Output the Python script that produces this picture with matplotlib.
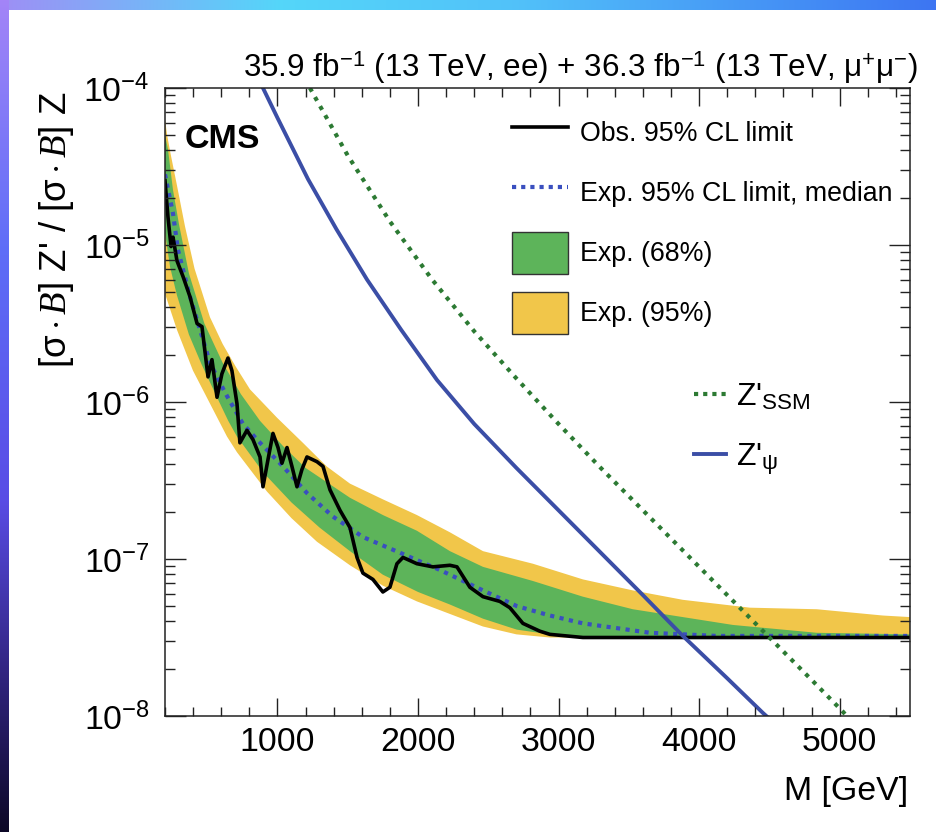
import numpy as np
import matplotlib
matplotlib.use("Agg")
import matplotlib.pyplot as plt
from matplotlib.lines import Line2D
from matplotlib.patches import Patch
from matplotlib.ticker import MultipleLocator, LogLocator, FormatStrFormatter

# values: mass in GeV, limits given as log10 of the ratio
obs_mass = [200, 221, 243, 257, 285, 328, 378, 428, 463, 506, 534, 570, 605, 648, 676,
            712, 733, 783, 826, 876, 897, 932, 968, 1004, 1032, 1068, 1103, 1139, 1174,
            1210, 1281, 1324, 1374, 1445, 1516, 1566, 1608, 1679, 1750, 1800, 1850, 1893,
            1992, 2106, 2227, 2277, 2369, 2462, 2582, 2653, 2746, 2867, 2938, 3173, 5500]
obs_log = [-4.59, -4.82, -5.01, -4.95, -5.10, -5.20, -5.33, -5.50, -5.52, -5.84, -5.73,
           -5.97, -5.82, -5.72, -5.80, -6.01, -6.26, -6.18, -6.24, -6.35, -6.54, -6.37,
           -6.20, -6.29, -6.39, -6.29, -6.41, -6.54, -6.43, -6.35, -6.38, -6.41, -6.56,
           -6.69, -6.80, -6.99, -7.09, -7.13, -7.21, -7.18, -7.03, -6.99, -7.03, -7.05,
           -7.04, -7.05, -7.18, -7.24, -7.27, -7.31, -7.41, -7.46, -7.48, -7.50, -7.50]

exp_mass = [200, 257, 292, 378, 449, 520, 627, 755, 876, 1039, 1210, 1395, 1608, 1871,
            2156, 2462, 2703, 2938, 3173, 3650, 4126, 5500]
exp_log = [-4.55, -4.80, -5.03, -5.33, -5.54, -5.75, -5.94, -6.14, -6.26, -6.41, -6.58,
           -6.73, -6.86, -6.96, -7.07, -7.20, -7.30, -7.36, -7.41, -7.47, -7.49, -7.49]

g_up_mass = [200, 221, 257, 300, 370, 480, 610, 740, 876, 1039, 1200, 1516, 1750, 1992,
             2227, 2462, 2817, 3173, 3528, 3884, 4240, 4837, 5500]
g_up_log = [-4.30, -4.39, -4.65, -4.87, -5.18, -5.50, -5.75, -5.95, -6.12, -6.28, -6.42,
            -6.61, -6.72, -6.82, -6.95, -7.05, -7.14, -7.24, -7.32, -7.37, -7.42, -7.47, -7.48]
g_lo_mass = [200, 236, 285, 370, 460, 570, 650, 712, 900, 1100, 1300, 1516, 1750, 2000,
             2227, 2462, 2703, 2938, 3200, 5500]
g_lo_log = [-4.92, -5.14, -5.32, -5.57, -5.76, -5.97, -6.12, -6.22, -6.45, -6.64, -6.80,
            -6.95, -7.10, -7.21, -7.29, -7.38, -7.45, -7.48, -7.50, -7.50]

y_up_mass = [200, 215, 240, 285, 342, 410, 520, 610, 700, 805, 997, 1181, 1350, 1516, 1750,
             1992, 2227, 2462, 2817, 3173, 3528, 3884, 4361, 4837, 5306, 5500]
y_up_log = [-4.20, -4.30, -4.42, -4.62, -4.88, -5.15, -5.46, -5.63, -5.77, -5.92, -6.10,
            -6.26, -6.41, -6.52, -6.62, -6.72, -6.83, -6.95, -7.03, -7.13, -7.20, -7.26,
            -7.31, -7.32, -7.36, -7.37]
y_lo_mass = [200, 285, 399, 520, 641, 712, 925, 1100, 1281, 1516, 1750, 1992, 2227, 2462,
             2700, 2938, 5500]
y_lo_log = [-5.31, -5.54, -5.80, -6.01, -6.22, -6.32, -6.57, -6.74, -6.89, -7.04, -7.17,
            -7.27, -7.35, -7.43, -7.48, -7.50, -7.50]

psi_mass = [897, 1000, 1217, 1420, 1637, 1880, 2135, 2400, 2700, 3000, 3300, 3600, 3884,
            4200, 4453, 4490]
psi_log = [-4.00, -4.19, -4.58, -4.90, -5.22, -5.54, -5.86, -6.14, -6.42, -6.69, -6.96,
           -7.23, -7.49, -7.76, -7.98, -8.01]

ssm_mass = [1231, 1500, 1800, 2100, 2400, 2700, 3000, 3300, 3600, 3900, 4200, 4500, 4800,
            5020, 5050]
ssm_log = [-4.00, -4.43, -4.85, -5.22, -5.55, -5.85, -6.14, -6.42, -6.69, -6.96, -7.23,
           -7.50, -7.77, -7.97, -8.00]

leg_labels = ["Obs. 95% CL limit", "Exp. 95% CL limit, median", "Exp. (68%)", "Exp. (95%)"]
model_labels = [r"Z'$_{\mathrm{SSM}}$", r"Z'$_{\mathrm{\psi}}$"]

# colours
c_yellow = "#f1c64a"
c_green = "#5db45a"
c_exp = "#3a4fbf"
c_psi = "#3b4ea6"
c_ssm = "#2c7a33"

font = "Liberation Sans"
plt.rcParams["font.family"] = [font, "DejaVu Sans"]
plt.rcParams["mathtext.fontset"] = "custom"
plt.rcParams["mathtext.rm"] = font
plt.rcParams["mathtext.sf"] = font
plt.rcParams["mathtext.it"] = "Liberation Serif:italic"
plt.rcParams["mathtext.bf"] = font + ":bold"

W, H = 936, 832
fig = plt.figure(figsize=(W / 100, H / 100), dpi=100)

# gradient frame along the top and left edge
img = np.ones((H, W, 3))
xs = np.linspace(0, 1, W)
top_pos = [0.0, 0.3, 0.55, 1.0]
top_cols = np.array([[0.62, 0.56, 0.96], [0.33, 0.84, 0.98], [0.32, 0.76, 0.98], [0.24, 0.46, 0.95]])
top_rgb = np.stack([np.interp(xs, top_pos, top_cols[:, i]) for i in range(3)], axis=1)
img[:10, :, :] = top_rgb[None, :, :]
ys = np.linspace(0, 1, H)
left_pos = [0.0, 0.3, 0.6, 0.8, 1.0]
left_cols = np.array([[0.64, 0.52, 0.97], [0.37, 0.43, 0.97], [0.35, 0.3, 0.9], [0.2, 0.15, 0.52], [0.05, 0.03, 0.15]])
left_rgb = np.stack([np.interp(ys, left_pos, left_cols[:, i]) for i in range(3)], axis=1)
img[:, :9, :] = left_rgb[:, None, :]
bg = fig.add_axes([0, 0, 1, 1], zorder=-10)
bg.imshow(img, extent=[0, 1, 0, 1], aspect="auto")
bg.axis("off")

ax = fig.add_axes([165 / W, 1 - 716 / H, 745 / W, 628 / H])

def lin(v):
    return 10.0 ** np.asarray(v)

ax.fill(np.r_[y_up_mass, y_lo_mass[::-1]], lin(np.r_[y_up_log, y_lo_log[::-1]]),
        color=c_yellow, lw=0, zorder=1)
ax.fill(np.r_[g_up_mass, g_lo_mass[::-1]], lin(np.r_[g_up_log, g_lo_log[::-1]]),
        color=c_green, lw=0, zorder=2)
ax.plot(exp_mass, lin(exp_log), color=c_exp, lw=3, ls=(0, (1, 1.3)), zorder=3)
ax.plot(obs_mass, lin(obs_log), color="black", lw=2.6, zorder=4)
ax.plot(ssm_mass, lin(ssm_log), color=c_ssm, lw=3, ls=(0, (1, 1.5)), zorder=5)
ax.plot(psi_mass, lin(psi_log), color=c_psi, lw=2.8, zorder=5)

ax.set_xlim(200, 5500)
ax.set_yscale("log")
ax.set_ylim(1e-8, 1e-4)
ax.xaxis.set_major_locator(MultipleLocator(1000))
ax.xaxis.set_minor_locator(MultipleLocator(200))
ax.xaxis.set_major_formatter(FormatStrFormatter("%d"))
ax.yaxis.set_major_locator(LogLocator(base=10, numticks=10))
ax.yaxis.set_minor_locator(LogLocator(base=10, subs=np.arange(2, 10), numticks=20))

fs_tick = 24.4
ax.tick_params(axis="both", which="both", direction="in", top=True, right=True,
               color="#222222", width=1.0)
ax.tick_params(axis="x", which="major", length=13, labelsize=fs_tick, pad=8)
ax.tick_params(axis="x", which="minor", length=6.5)
ax.tick_params(axis="y", which="major", length=15, labelsize=fs_tick, pad=11)
ax.tick_params(axis="y", which="minor", length=7.5)
for sp in ax.spines.values():
    sp.set_linewidth(1.1)
    sp.set_color("#222222")
    sp.set_zorder(10)
ax.xaxis.set_zorder(10)
ax.yaxis.set_zorder(10)

# legends
fs_leg = 19.3
handles = [Line2D([], [], color="black", lw=2.6),
           Line2D([], [], color=c_exp, lw=3, ls=(0, (1, 1.2))),
           Patch(facecolor=c_green, edgecolor="#333333", lw=1),
           Patch(facecolor=c_yellow, edgecolor="#333333", lw=1)]
leg1 = ax.legend(handles, leg_labels, loc="upper left",
                 bbox_to_anchor=(512 / W, 1 - 112 / H), bbox_transform=fig.transFigure,
                 frameon=False, fontsize=fs_leg, handlelength=2.09, handleheight=2.03,
                 handletextpad=0.45, labelspacing=0.67, borderpad=0, borderaxespad=0)
ax.add_artist(leg1)

fs_leg2 = 23
handles2 = [Line2D([], [], color=c_ssm, lw=3, ls=(0, (1, 1.2))),
            Line2D([], [], color=c_psi, lw=2.8)]
ax.legend(handles2, model_labels, loc="upper left",
          bbox_to_anchor=(694 / W, 1 - 382 / H), bbox_transform=fig.transFigure,
          frameon=False, fontsize=fs_leg2, handlelength=1.0, handletextpad=0.3,
          labelspacing=0.9, borderpad=0, borderaxespad=0)

# texts
fig.text(918 / W, 1 - 77 / H,
         r"35.9 fb$^{-1}$ (13 TeV, ee) + 36.3 fb$^{-1}$ (13 TeV, μ$^{+}$μ$^{-}$)",
         ha="right", va="baseline", fontsize=22.6)
fig.text(185 / W, 1 - 148 / H, "CMS", ha="left", va="baseline",
         fontsize=24.5, fontweight="bold")
fig.text(908 / W, 1 - 800 / H, "M [GeV]", ha="right", va="baseline", fontsize=24.4)
fig.text(56 / W, 1 - 92 / H, r"[$\mathrm{\sigma}\cdot B$] Z' / [$\mathrm{\sigma}\cdot B$] Z",
         rotation=90, ha="center", va="top", fontsize=26.5)

fig.savefig("out.png", dpi=100)
